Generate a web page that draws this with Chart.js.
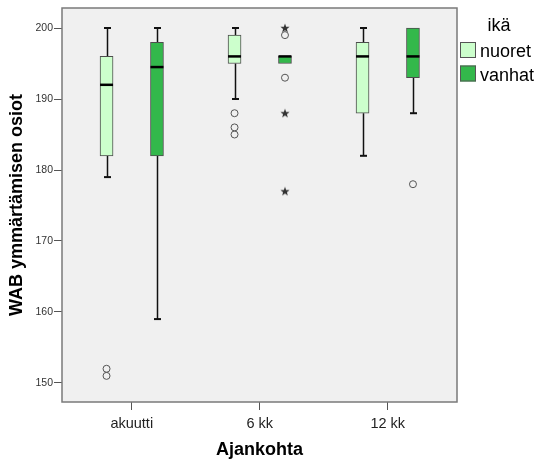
<!DOCTYPE html>
<html>
<head>
<meta charset="utf-8">
<script src="https://cdn.jsdelivr.net/npm/chart.js@4.4.1/dist/chart.umd.min.js"></script>
<style>
  html, body { margin: 0; padding: 0; background: #fff; }
  #wrap { width: 538px; height: 464px; }
</style>
</head>
<body>
<div id="wrap"><canvas id="boxChart"></canvas></div>
<script>
const categories = ['akuutti', '6 kk', '12 kk'];
const yTicks = [150, 160, 170, 180, 190, 200];

// box summaries per time point: whisker ends, quartiles, median
const nuoretLow = [179, 190, 182];
const nuoretQ1 = [182, 195, 188];
const nuoretMedian = [192, 196, 196];
const nuoretQ3 = [196, 199, 198];
const nuoretHigh = [200, 200, 200];

const vanhatLow = [159, 195, 188];
const vanhatQ1 = [182, 195, 193];
const vanhatMedian = [194.5, 196, 196];
const vanhatQ3 = [198, 196, 200];
const vanhatHigh = [200, 196, 200];

// outliers (o) and extremes (*) per time point
const nuoretOutliers = [[152, 151], [188, 186, 185], []];
const vanhatOutliers = [[], [199, 193], [178]];
const vanhatExtremes = [[], [200, 188, 177], []];

const SHIFT = 0.197;   // half the gap between the two boxes, in category units
const BOX_W = 13;      // box width in px

const groups = [
  { label: 'nuoret', color: '#ccffcc', shift: -SHIFT,
    low: nuoretLow, q1: nuoretQ1, med: nuoretMedian, q3: nuoretQ3, high: nuoretHigh },
  { label: 'vanhat', color: '#33b84b', shift: SHIFT,
    low: vanhatLow, q1: vanhatQ1, med: vanhatMedian, q3: vanhatQ3, high: vanhatHigh }
];

function toPoints(lists, shift) {
  const pts = [];
  lists.forEach((vals, i) => vals.forEach(v => pts.push({ x: i + shift, y: v })));
  return pts;
}

// small filled five-point star for extreme values
function starImage() {
  const c = document.createElement('canvas');
  c.width = 10; c.height = 10;
  const g = c.getContext('2d');
  g.fillStyle = '#333';
  g.beginPath();
  for (let k = 0; k < 10; k++) {
    const r = k % 2 === 0 ? 4.8 : 2;
    const a = -Math.PI / 2 + k * Math.PI / 5;
    g.lineTo(5 + r * Math.cos(a), 5.3 + r * Math.sin(a));
  }
  g.closePath();
  g.fill();
  return c;
}

const boxSets = groups.map(g => ({
  type: 'bar',
  label: g.label,
  data: categories.map((c, i) => ({ x: i + g.shift, y: [g.q1[i], g.q3[i]] })),
  backgroundColor: g.color,
  borderColor: '#4d4d4d',
  borderWidth: 1,
  borderSkipped: false,
  barThickness: BOX_W,
  grouped: false,
  order: 2
}));

const circleStyle = {
  type: 'scatter',
  pointStyle: 'circle',
  pointRadius: 3.5,
  pointBackgroundColor: 'rgba(0,0,0,0)',
  pointBorderColor: '#555',
  pointBorderWidth: 1,
  order: 1
};

const outlierSets = [
  Object.assign({ label: 'nuoret o', data: toPoints(nuoretOutliers, -SHIFT) }, circleStyle),
  Object.assign({ label: 'vanhat o', data: toPoints(vanhatOutliers, SHIFT) }, circleStyle),
  {
    type: 'scatter', label: 'vanhat *',
    data: toPoints(vanhatExtremes, SHIFT),
    pointStyle: starImage(), order: 1
  }
];

const boxPlot = {
  id: 'boxPlot',
  beforeDraw(chart) {
    const { ctx, chartArea: a } = chart;
    ctx.save();
    ctx.fillStyle = '#f0f0f0';
    ctx.fillRect(a.left, a.top, a.right - a.left, a.bottom - a.top);
    ctx.restore();
  },
  beforeDatasetsDraw(chart) {
    const { ctx, scales: { x, y } } = chart;
    ctx.save();
    ctx.strokeStyle = '#111';
    groups.forEach(g => {
      categories.forEach((c, i) => {
        const px = Math.round(x.getPixelForValue(i + g.shift)) + 0.5;
        [[g.q3[i], g.high[i]], [g.q1[i], g.low[i]]].forEach(([edge, end]) => {
          if (edge === end) return;
          ctx.lineWidth = 1.5;
          ctx.beginPath();
          ctx.moveTo(px, y.getPixelForValue(edge));
          ctx.lineTo(px, y.getPixelForValue(end));
          ctx.stroke();
          ctx.lineWidth = 2;
          ctx.beginPath();
          ctx.moveTo(px - 3.5, y.getPixelForValue(end));
          ctx.lineTo(px + 3.5, y.getPixelForValue(end));
          ctx.stroke();
        });
      });
    });
    ctx.restore();
  },
  afterDatasetsDraw(chart) {
    const { ctx, scales: { x, y } } = chart;
    ctx.save();
    ctx.strokeStyle = '#000';
    ctx.lineWidth = 2.5;
    groups.forEach(g => {
      categories.forEach((c, i) => {
        const px = x.getPixelForValue(i + g.shift);
        const py = y.getPixelForValue(g.med[i]);
        ctx.beginPath();
        ctx.moveTo(px - BOX_W / 2, py);
        ctx.lineTo(px + BOX_W / 2, py);
        ctx.stroke();
      });
    });
    ctx.restore();
  },
  afterDraw(chart) {
    const { ctx, chartArea: a } = chart;
    ctx.save();
    // plot frame
    ctx.strokeStyle = '#7a7a7a';
    ctx.lineWidth = 1.5;
    ctx.strokeRect(a.left, a.top, a.right - a.left, a.bottom - a.top);

    // legend
    const lx = a.right + 3;
    ctx.fillStyle = '#000';
    ctx.textBaseline = 'alphabetic';
    ctx.textAlign = 'center';
    ctx.font = '18px "Liberation Sans", Arial, sans-serif';
    ctx.fillText('ikä', 499, 31);
    ctx.textAlign = 'left';
    groups.forEach((g, k) => {
      const top = 42 + k * 23.5;
      ctx.fillStyle = g.color;
      ctx.fillRect(lx, top, 16, 16);
      ctx.strokeStyle = '#555';
      ctx.lineWidth = 1;
      ctx.strokeRect(lx + 0.5, top + 0.5, 15, 15);
      ctx.fillStyle = '#000';
      ctx.fillText(g.label, lx + 20, top + 15);
    });
    ctx.restore();
  }
};

Chart.defaults.font.family = '"Liberation Sans", Arial, sans-serif';

new Chart(document.getElementById('boxChart'), {
  data: { datasets: boxSets.concat(outlierSets) },
  options: {
    responsive: true,
    maintainAspectRatio: false,
    animation: false,
    layout: { padding: { left: 0, top: 8, right: 81, bottom: 0 } },
    plugins: {
      legend: { display: false },
      tooltip: { enabled: false }
    },
    scales: {
      x: {
        type: 'linear',
        min: -0.545,
        max: 2.541,
        offset: false,
        afterBuildTicks: s => { s.ticks = categories.map((c, i) => ({ value: i })); },
        afterFit: s => { s.height = 62; },
        ticks: {
          callback: v => categories[v],
          color: '#222',
          font: { size: 14.5 },
          padding: 5,
          autoSkip: false,
          maxRotation: 0
        },
        grid: { offset: false, drawOnChartArea: false, drawTicks: true, tickLength: 8, color: '#555' },
        border: { display: false },
        title: {
          display: true,
          text: 'Ajankohta',
          color: '#000',
          font: { size: 18, weight: 'bold' },
          padding: { top: 0, bottom: 3 }
        }
      },
      y: {
        type: 'linear',
        min: 147.32,
        max: 202.82,
        afterBuildTicks: s => { s.ticks = yTicks.map(v => ({ value: v })); },
        afterFit: s => { s.width = 62; },
        ticks: { color: '#333', font: { size: 10.5 }, padding: 1 },
        grid: { drawOnChartArea: false, drawTicks: true, tickLength: 8, color: '#555' },
        border: { display: false },
        title: {
          display: true,
          text: 'WAB ymmärtämisen osiot',
          color: '#000',
          font: { size: 18, weight: 'bold' },
          padding: { top: 6, bottom: 0 }
        }
      }
    }
  },
  plugins: [boxPlot]
});
</script>
</body>
</html>
